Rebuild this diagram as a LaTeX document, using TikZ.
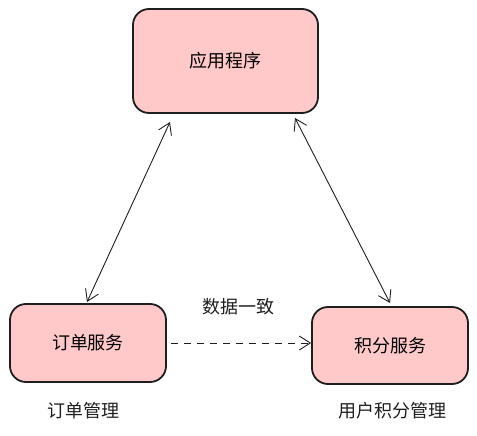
\documentclass[tikz,border=0pt]{standalone}
\usepackage{fontspec}
\setmainfont{Noto Sans CJK SC}
\usetikzlibrary{arrows.meta}
\definecolor{boxfill}{HTML}{FFC9C9}
\definecolor{ink}{HTML}{1E1E1E}
\tikzset{
  box/.style={draw=ink, fill=boxfill, line width=1.8pt, rounded corners=16pt, inner sep=0pt, font=\fontsize{18}{20}\selectfont},
  lbl/.style={font=\fontsize{18}{20}\selectfont, text=ink},
  conn/.style={draw=ink, line width=0.9pt, {Straight Barb[length=11pt,width=14pt]}-{Straight Barb[length=11pt,width=14pt]}},
  dconn/.style={draw=ink, line width=0.9pt, dash pattern=on 7pt off 6pt, -{Straight Barb[length=11pt,width=14pt]}}
}
\begin{document}
\begin{tikzpicture}[x=1pt,y=-1pt]
\useasboundingbox (0,0) rectangle (477,436);
\node[box, minimum width=185pt, minimum height=104pt] (app) at (225.5,61) {应用程序};
\node[box, minimum width=156pt, minimum height=78pt] (order) at (88,343) {订单服务};
\node[box, minimum width=156pt, minimum height=77pt] (points) at (390,345.5) {积分服务};
\node[lbl] (lab) at (238,307) {数据一致};
\node[lbl] (ordertxt) at (83,411) {订单管理};
\node[lbl] (pointstxt) at (392,411) {用户积分管理};
\coordinate (a1) at (170,122);
\coordinate (a2) at (87,302);
\coordinate (b1) at (295,118);
\coordinate (b2) at (390,303);
\draw[conn] (a2) -- (a1);
\draw[conn] (b1) -- (b2);
\draw[dconn] (order.east) ++(4pt,0) coordinate (d1) -- (points.west |- d1);
\end{tikzpicture}
\end{document}
